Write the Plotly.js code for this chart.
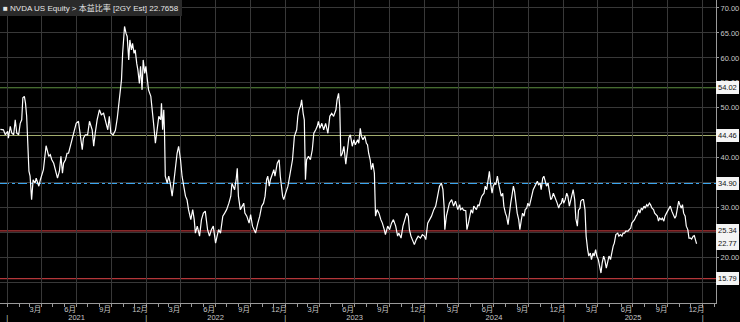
<!DOCTYPE html>
<html>
<head>
<meta charset="utf-8">
<script src="https://cdn.plot.ly/plotly-3.0.1.min.js"></script>
<style>
  html, body { margin: 0; padding: 0; background: #000; }
  #chart { width: 740px; height: 322px; }
</style>
</head>
<body>
<div id="chart"></div>
<script>
// ---- Data ----
const seriesName = "NVDA US Equity > 本益比率 [2GY Est]";
const lastValueText = "22.7658";

const pe2021 = [
  ["2020-12-14",45.7],["2020-12-22",45.6],["2020-12-27",44.6],["2021-01-02",45.3],["2021-01-04",43.9],
  ["2021-01-09",46.3],["2021-01-13",44.9],["2021-01-18",44.6],["2021-01-22",47.6],["2021-01-26",44.9],
  ["2021-01-31",44.6],["2021-02-04",46.9],["2021-02-08",47.6],["2021-02-11",52.0],["2021-02-15",52.3],
  ["2021-02-18",50.9],["2021-02-21",48.3],["2021-02-23",44.3],["2021-02-27",37.3],["2021-03-02",36.3],
  ["2021-03-06",31.6],["2021-03-10",35.6],["2021-03-15",34.9],["2021-03-18",35.9],["2021-03-22",34.9],
  ["2021-03-25",34.3],["2021-03-29",35.6],["2021-04-02",36.9],["2021-04-06",37.6],["2021-04-13",42.4],
  ["2021-04-17",40.9],["2021-04-20",40.3],["2021-04-24",40.6],["2021-04-28",39.6],["2021-05-03",38.9],
  ["2021-05-07",37.6],["2021-05-13",35.9],["2021-05-18",37.3],["2021-05-22",40.3],["2021-05-26",36.9],
  ["2021-05-29",38.9],["2021-06-03",39.6],["2021-06-07",40.9],["2021-06-11",40.9],["2021-06-16",42.3],
  ["2021-06-20",43.6],["2021-06-26",45.6],["2021-07-01",46.9],["2021-07-07",47.3],["2021-07-12",44.6],
  ["2021-07-17",41.6],["2021-07-20",43.9],["2021-07-25",44.6],["2021-07-31",44.6],["2021-08-05",47.3],
  ["2021-08-12",45.6],["2021-08-16",42.3],["2021-08-20",44.9],["2021-08-25",47.6],["2021-08-31",49.6],
  ["2021-09-05",48.6],["2021-09-11",48.9],["2021-09-16",47.6],["2021-09-22",45.6],["2021-09-26",48.3],
  ["2021-09-30",44.9],["2021-10-06",44.6],["2021-10-12",45.5],["2021-10-17",48.0],["2021-10-22",51.0],
  ["2021-10-28",55.6],["2021-10-31",60.9],["2021-11-05",66.3],["2021-11-09",64.9],["2021-11-12",64.3],
  ["2021-11-16",59.6],["2021-11-19",63.6],["2021-11-23",61.6],["2021-11-26",62.9],["2021-11-30",60.9],
  ["2021-12-03",61.6],["2021-12-07",58.9],["2021-12-10",57.6],["2021-12-14",54.9],["2021-12-17",58.3],
  ["2021-12-21",53.6],["2021-12-24",59.6],["2021-12-28",56.9],["2021-12-31",58.3]
];
const pe2022 = [
  ["2022-01-04",55.6],["2022-01-07",53.6],["2022-01-13",52.3],["2022-01-16",50.3],["2022-01-21",46.3],
  ["2022-01-25",42.9],["2022-01-30",45.6],["2022-02-03",48.3],["2022-02-08",47.6],["2022-02-10",50.9],
  ["2022-02-13",45.6],["2022-02-16",49.6],["2022-02-18",44.9],["2022-02-20",36.3],["2022-02-25",34.9],
  ["2022-03-01",36.3],["2022-03-05",34.9],["2022-03-10",32.3],["2022-03-14",34.9],["2022-03-18",38.3],
  ["2022-03-23",40.9],["2022-03-27",42.3],["2022-04-01",39.6],["2022-04-05",36.3],["2022-04-09",34.3],
  ["2022-04-14",32.3],["2022-04-18",31.6],["2022-04-22",29.6],["2022-04-28",27.6],["2022-05-03",29.6],
  ["2022-05-07",27.6],["2022-05-10",24.9],["2022-05-15",26.3],["2022-05-21",24.3],["2022-05-26",27.6],
  ["2022-05-31",28.9],["2022-06-05",29.3],["2022-06-11",25.6],["2022-06-16",24.3],["2022-06-21",25.6],
  ["2022-06-26",26.3],["2022-07-02",22.9],["2022-07-06",24.3],["2022-07-10",25.6],["2022-07-15",24.9],
  ["2022-07-21",28.3],["2022-07-26",28.9],["2022-07-31",29.6],["2022-08-06",30.9],["2022-08-11",32.3],
  ["2022-08-14",34.9],["2022-08-21",33.6],["2022-08-25",35.6],["2022-08-28",37.9],["2022-08-31",32.3],
  ["2022-09-05",29.6],["2022-09-10",30.3],["2022-09-14",30.9],["2022-09-17",28.9],["2022-09-22",28.3],
  ["2022-09-28",26.9],["2022-10-02",28.6],["2022-10-07",26.3],["2022-10-12",25.3],["2022-10-15",24.9],
  ["2022-10-21",26.9],["2022-10-26",28.3],["2022-10-31",30.3],["2022-11-05",30.9],["2022-11-09",32.3],
  ["2022-11-13",35.6],["2022-11-16",36.3],["2022-11-20",34.3],["2022-11-23",35.6],["2022-11-28",36.9],
  ["2022-12-02",37.6],["2022-12-05",36.3],["2022-12-11",38.9],["2022-12-16",39.6],["2022-12-19",36.3],
  ["2022-12-25",32.3],["2022-12-28",31.6]
];
const pe2023 = [
  ["2023-01-02",32.9],["2023-01-08",34.3],["2023-01-11",35.6],["2023-01-15",37.6],["2023-01-20",39.6],
  ["2023-01-25",44.3],["2023-01-31",45.6],["2023-02-03",48.3],["2023-02-06",49.6],["2023-02-10",50.3],
  ["2023-02-13",51.6],["2023-02-17",48.9],["2023-02-20",47.6],["2023-02-23",35.6],["2023-02-26",39.6],
  ["2023-03-03",40.3],["2023-03-08",39.6],["2023-03-13",41.6],["2023-03-17",44.9],["2023-03-22",45.6],
  ["2023-03-26",46.3],["2023-03-29",47.3],["2023-04-02",45.9],["2023-04-07",46.9],["2023-04-12",45.6],
  ["2023-04-17",46.9],["2023-04-23",44.9],["2023-04-28",48.3],["2023-05-03",48.9],["2023-05-08",48.3],
  ["2023-05-14",49.6],["2023-05-17",51.6],["2023-05-21",52.9],["2023-05-24",50.3],["2023-05-27",40.3],
  ["2023-05-31",40.9],["2023-06-04",42.3],["2023-06-09",38.7],["2023-06-13",42.0],["2023-06-17",44.0],
  ["2023-06-21",44.6],["2023-06-26",42.3],["2023-06-30",43.6],["2023-07-04",42.6],["2023-07-10",43.6],
  ["2023-07-13",42.9],["2023-07-17",45.9],["2023-07-20",44.3],["2023-07-24",43.6],["2023-07-29",44.3],
  ["2023-08-02",42.9],["2023-08-05",42.6],["2023-08-08",40.9],["2023-08-12",39.6],["2023-08-15",37.6],
  ["2023-08-19",38.9],["2023-08-23",36.9],["2023-08-24",34.9],["2023-08-26",28.3],["2023-08-30",29.6],
  ["2023-09-04",28.9],["2023-09-09",27.6],["2023-09-13",26.9],["2023-09-18",25.6],["2023-09-21",24.6],
  ["2023-09-27",26.3],["2023-10-02",25.6],["2023-10-07",26.9],["2023-10-12",27.6],["2023-10-18",26.3],
  ["2023-10-23",24.3],["2023-10-26",24.9],["2023-11-01",23.9],["2023-11-06",26.3],["2023-11-11",27.6],
  ["2023-11-16",28.9],["2023-11-20",28.3],["2023-11-23",25.6],["2023-11-27",24.3],["2023-11-30",23.6],
  ["2023-12-06",22.6],["2023-12-11",23.6],["2023-12-16",24.3],["2023-12-22",23.9],["2023-12-27",24.6]
];
const pe2024 = [
  ["2024-01-01",24.3],["2024-01-05",23.6],["2024-01-10",26.9],["2024-01-15",27.6],["2024-01-20",28.3],
  ["2024-01-26",29.6],["2024-01-31",30.3],["2024-02-05",32.3],["2024-02-10",34.3],["2024-02-15",34.9],
  ["2024-02-19",33.6],["2024-02-22",30.3],["2024-02-24",25.6],["2024-02-28",28.3],["2024-03-02",29.6],
  ["2024-03-07",30.9],["2024-03-13",31.6],["2024-03-18",30.3],["2024-03-23",31.3],["2024-03-29",29.6],
  ["2024-04-03",30.6],["2024-04-05",29.6],["2024-04-10",29.9],["2024-04-13",29.5],["2024-04-19",29.4],
  ["2024-04-22",25.6],["2024-04-26",26.9],["2024-04-30",28.3],["2024-05-03",29.6],["2024-05-07",28.9],
  ["2024-05-10",30.3],["2024-05-14",29.9],["2024-05-17",29.6],["2024-05-21",30.6],["2024-05-24",30.3],
  ["2024-05-28",31.6],["2024-05-31",32.3],["2024-06-06",32.9],["2024-06-09",34.3],["2024-06-13",33.6],
  ["2024-06-16",35.6],["2024-06-20",37.3],["2024-06-23",34.9],["2024-06-27",32.9],["2024-06-30",34.3],
  ["2024-07-04",34.9],["2024-07-07",34.6],["2024-07-11",36.3],["2024-07-14",34.9],["2024-07-18",33.3],
  ["2024-07-21",32.3],["2024-07-25",32.9],["2024-07-28",30.3],["2024-08-01",28.9],["2024-08-04",28.3],
  ["2024-08-08",26.6],["2024-08-11",28.9],["2024-08-15",30.9],["2024-08-18",32.3],["2024-08-22",34.3],
  ["2024-08-25",33.3],["2024-08-29",30.3],["2024-09-01",28.9],["2024-09-05",27.6],["2024-09-08",25.6],
  ["2024-09-12",27.6],["2024-09-15",28.9],["2024-09-19",28.3],["2024-09-22",29.6],["2024-09-26",29.9],
  ["2024-09-29",30.9],["2024-10-03",30.3],["2024-10-06",31.6],["2024-10-10",32.6],["2024-10-13",33.6],
  ["2024-10-17",34.3],["2024-10-20",34.9],["2024-10-24",35.3],["2024-10-27",34.6],["2024-10-31",34.9],
  ["2024-11-03",33.6],["2024-11-07",35.9],["2024-11-10",36.3],["2024-11-14",34.9],["2024-11-17",34.3],
  ["2024-11-21",34.9],["2024-11-24",33.3],["2024-11-28",31.6],["2024-12-01",31.9],["2024-12-05",32.9],
  ["2024-12-08",32.3],["2024-12-12",31.6],["2024-12-15",30.9],["2024-12-19",29.9],["2024-12-22",30.6],
  ["2024-12-26",30.9],["2024-12-29",31.9]
];
const pe2025 = [
  ["2025-01-01",30.9],["2025-01-05",31.6],["2025-01-09",32.9],["2025-01-12",32.3],["2025-01-16",30.3],
  ["2025-01-19",31.3],["2025-01-23",32.6],["2025-01-26",33.6],["2025-01-30",31.6],["2025-02-02",27.8],
  ["2025-02-06",26.3],["2025-02-09",29.5],["2025-02-13",29.9],["2025-02-15",31.3],["2025-02-19",31.6],
  ["2025-02-22",31.6],["2025-02-26",29.6],["2025-03-01",24.3],["2025-03-05",21.6],["2025-03-08",20.3],
  ["2025-03-12",20.9],["2025-03-15",19.6],["2025-03-19",20.9],["2025-03-22",20.3],["2025-03-26",21.6],
  ["2025-03-29",20.3],["2025-04-02",19.6],["2025-04-05",18.3],["2025-04-09",16.9],["2025-04-12",18.9],
  ["2025-04-16",20.3],["2025-04-19",19.6],["2025-04-23",17.9],["2025-04-26",18.9],["2025-04-30",20.3],
  ["2025-05-04",19.6],["2025-05-07",20.9],["2025-05-11",22.3],["2025-05-14",22.9],["2025-05-18",24.6],
  ["2025-05-23",24.9],["2025-05-26",24.3],["2025-05-30",24.6],["2025-06-03",24.3],["2025-06-06",24.9],
  ["2025-06-10",24.9],["2025-06-13",25.3],["2025-06-19",25.3],["2025-06-22",25.6],["2025-06-26",25.9],
  ["2025-06-29",26.9],["2025-07-03",27.3],["2025-07-06",27.6],["2025-07-10",28.3],["2025-07-13",28.6],
  ["2025-07-17",29.6],["2025-07-20",28.9],["2025-07-24",29.9],["2025-07-27",29.6],["2025-07-31",30.3],
  ["2025-08-03",29.9],["2025-08-07",30.6],["2025-08-10",30.3],["2025-08-14",30.9],["2025-08-17",30.6],
  ["2025-08-21",29.9],["2025-08-25",29.6],["2025-08-28",28.9],["2025-08-31",28.6],["2025-09-04",28.3],
  ["2025-09-07",27.3],["2025-09-10",27.9],["2025-09-14",27.6],["2025-09-17",27.9],["2025-09-21",27.3],
  ["2025-09-24",28.3],["2025-09-28",28.9],["2025-10-01",29.3],["2025-10-05",29.9],["2025-10-08",30.3],
  ["2025-10-12",29.3],["2025-10-15",28.6],["2025-10-20",27.9],["2025-10-23",28.3],["2025-10-26",29.3],
  ["2025-10-30",31.3],["2025-11-02",30.6],["2025-11-06",29.9],["2025-11-09",30.6],["2025-11-12",28.9],
  ["2025-11-16",28.3],["2025-11-19",26.3],["2025-11-23",25.6],["2025-11-26",23.9],["2025-11-30",23.9],
  ["2025-12-03",23.7],["2025-12-07",24.3],["2025-12-10",24.4],["2025-12-14",23.3],["2025-12-16",22.77]
];

// Reference levels (mean +/- std bands) drawn as horizontal lines
const refLevels = [54.02, 44.46, 34.90, 25.34, 15.79];
const refColors = ["#5e8f40", "#a3ad6e", "#3aa6f0", "#b3373a", "#b3373a"];
const refWidths = [1.2, 1.2, 1.5, 1.2, 1.2];
const refDash   = ["solid", "solid", "dashdot", "solid", "solid"];

// Axis tick definitions
const quarterStarts = [
  "2021-01-01","2021-04-01","2021-07-01","2021-10-01",
  "2022-01-01","2022-04-01","2022-07-01","2022-10-01",
  "2023-01-01","2023-04-01","2023-07-01","2023-10-01",
  "2024-01-01","2024-04-01","2024-07-01","2024-10-01",
  "2025-01-01","2025-04-01","2025-07-01","2025-10-01",
  "2026-01-01"
];
const monthLabelDates = [
  "2021-03-16","2021-06-15","2021-09-15","2021-12-16",
  "2022-03-16","2022-06-15","2022-09-15","2022-12-16",
  "2023-03-16","2023-06-15","2023-09-15","2023-12-16",
  "2024-03-16","2024-06-15","2024-09-15","2024-12-16",
  "2025-03-16","2025-06-15","2025-09-15","2025-12-16"
];
const monthLabelText = monthLabelDates.map(d => parseInt(d.slice(5, 7), 10) + "月");
const yearTickDates = ["2021-01-01","2021-07-02","2022-01-01","2022-07-02","2023-01-01","2023-07-02",
                       "2024-01-01","2024-07-02","2025-01-01","2025-07-02","2026-01-01"];
const yearTickText  = ["|","2021","|","2022","|","2023","|","2024","|","2025","|"];
const xRange = ["2020-12-13", "2026-02-05"];
const yRange = [10.9, 71.6];

// ---- Build chart ----
const allPoints = pe2021.concat(pe2022, pe2023, pe2024, pe2025);
const xs = allPoints.map(p => p[0]);
const ys = allPoints.map(p => p[1]);
const lastVal = ys[ys.length - 1];

const FONT = "'Liberation Sans', Arial, 'Noto Sans CJK SC', sans-serif";
const gridCol = "#383838";
const axisCol = "#9a9a9a";
const tickFontCol = "#c8c8c8";

const traces = [
  { x: xs, y: ys, type: "scatter", mode: "lines",
    line: { color: "#ffffff", width: 1.2 }, hoverinfo: "skip", showlegend: false },
  { x: monthLabelDates, y: monthLabelDates.map(() => null), xaxis: "x2", yaxis: "y",
    type: "scatter", mode: "lines", showlegend: false, hoverinfo: "skip" },
  { x: yearTickDates, y: yearTickDates.map(() => null), xaxis: "x3", yaxis: "y",
    type: "scatter", mode: "lines", showlegend: false, hoverinfo: "skip" }
];

const shapes = refLevels.map((v, i) => ({
  type: "line", xref: "paper", x0: 0, x1: 1, yref: "y", y0: v, y1: v,
  line: { color: refColors[i], width: refWidths[i], dash: refDash[i] }, layer: "below"
}));

const tagStyle = (v) => ({
  xref: "paper", x: 1, xanchor: "left", xshift: 0,
  yref: "y", y: v, yanchor: "middle",
  text: v.toFixed(2), showarrow: false,
  bgcolor: "#f4f4f4", bordercolor: "#f4f4f4", borderpad: 1,
  font: { family: FONT, size: 7.5, color: "#111" }
});
const annotations = refLevels.map(tagStyle);
annotations.push(tagStyle(lastVal));
annotations.push({
  xref: "paper", yref: "paper", x: 0, y: 1, xanchor: "left", yanchor: "top",
  text: "■ " + seriesName + " " + lastValueText, showarrow: false, align: "left",
  bgcolor: "#2a2a2a", bordercolor: "#2a2a2a", borderpad: 2,
  font: { family: FONT, size: 8, color: "#e6e6e6" }
});

const layout = {
  width: 740, height: 322,
  margin: { l: 0, r: 24, t: 0, b: 19 },
  paper_bgcolor: "#000000", plot_bgcolor: "#000000",
  font: { family: FONT, size: 8, color: tickFontCol },
  showlegend: false,
  xaxis: {
    type: "date", range: xRange, tickmode: "array", tickvals: quarterStarts,
    showticklabels: false, showgrid: true, gridcolor: gridCol, gridwidth: 1,
    ticks: "outside", ticklen: 3, tickcolor: axisCol,
    showline: true, linecolor: axisCol, linewidth: 1, zeroline: false,
    minor: { tickmode: "linear", tick0: "2021-01-01", dtick: "M1",
             ticks: "outside", ticklen: 3, tickcolor: axisCol, showgrid: false }
  },
  xaxis2: {
    type: "date", range: xRange, overlaying: "x", anchor: "y", side: "bottom",
    tickmode: "array", tickvals: monthLabelDates, ticktext: monthLabelText,
    showgrid: false, ticks: "", ticklen: 0,
    showline: false, zeroline: false,
    tickfont: { family: FONT, size: 7.5, color: tickFontCol }
  },
  xaxis3: {
    type: "date", range: xRange, overlaying: "x", anchor: "y", side: "bottom",
    tickmode: "array", tickvals: yearTickDates, ticktext: yearTickText,
    showgrid: false, ticks: "outside", ticklen: 7, tickcolor: "rgba(0,0,0,0)",
    showline: false, zeroline: false,
    tickfont: { family: FONT, size: 7.5, color: tickFontCol }
  },
  yaxis: {
    side: "right", range: yRange, tick0: 0, dtick: 5, tickformat: ".2f",
    showgrid: true, gridcolor: gridCol, gridwidth: 1, zeroline: false,
    ticks: "outside", ticklen: 2, tickcolor: axisCol,
    showline: true, linecolor: axisCol, linewidth: 1,
    tickfont: { family: FONT, size: 7.5, color: tickFontCol }
  },
  shapes: shapes,
  annotations: annotations
};

Plotly.newPlot("chart", traces, layout, { displayModeBar: false, staticPlot: true });
</script>
</body>
</html>
